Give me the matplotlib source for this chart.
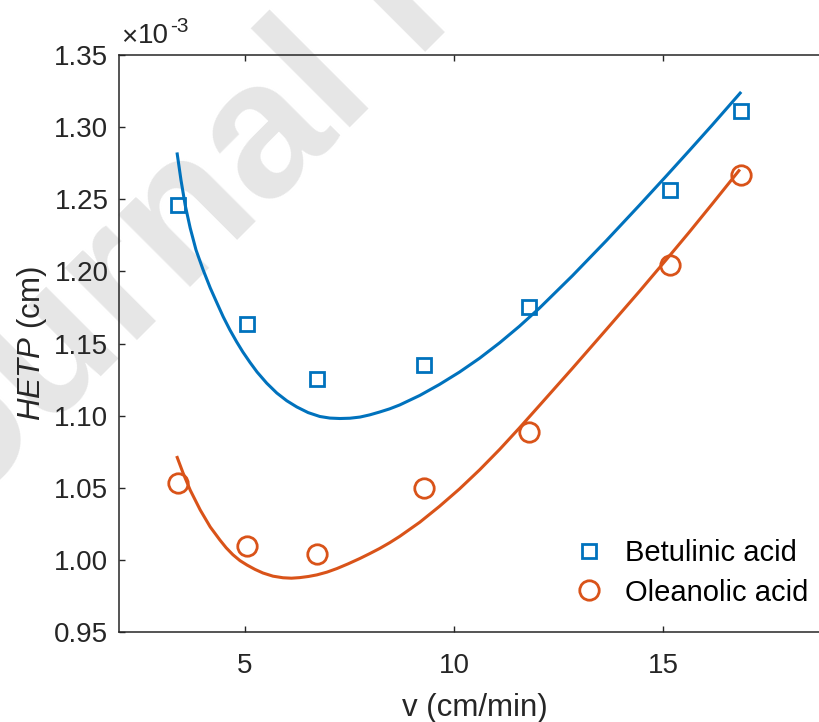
import numpy as np
import matplotlib
matplotlib.use("Agg")
import matplotlib.pyplot as plt
from matplotlib.lines import Line2D

plt.rcParams['font.family'] = ['Liberation Sans', 'DejaVu Sans']
plt.rcParams['mathtext.fontset'] = 'custom'
plt.rcParams['mathtext.rm'] = 'Liberation Sans'
plt.rcParams['mathtext.it'] = 'Liberation Sans:italic'

# measured points (v in cm/min, HETP in 1e-3 cm)
v_exp = [3.39, 5.06, 6.73, 9.28, 11.80, 15.16, 16.85]
hetp_betulinic = [1.246, 1.1635, 1.1253, 1.135, 1.1752, 1.2564, 1.3112]
hetp_oleanolic = [1.0532, 1.0095, 1.004, 1.0497, 1.0886, 1.2044, 1.2668]

# fitted curves
v_fit_b = [3.38, 3.47, 3.57, 3.69, 3.83, 4.00, 4.17, 4.33, 4.48, 4.64, 4.80, 4.95,
           5.12, 5.29, 5.52, 5.76, 6.00, 6.24, 6.51, 6.79, 7.03, 7.27, 7.51, 7.75,
           7.98, 8.22, 8.46, 8.70, 9.18, 9.65, 10.13, 10.61, 11.09, 11.56, 12.04,
           12.83, 13.64, 14.43, 15.07, 15.62, 16.17, 16.84]
hetp_fit_b = [1.2814, 1.2633, 1.2460, 1.2301, 1.2148, 1.2010, 1.1885, 1.1781, 1.1685,
              1.1594, 1.1512, 1.1441, 1.1369, 1.1302, 1.1225, 1.1157, 1.1103, 1.1060,
              1.1021, 1.0994, 1.0983, 1.0980, 1.0982, 1.0990, 1.1005, 1.1025, 1.1047,
              1.1074, 1.1140, 1.1216, 1.1302, 1.1398, 1.1505, 1.1619, 1.1745, 1.1970,
              1.2213, 1.2458, 1.2660, 1.2836, 1.3014, 1.3236]
v_fit_o = [3.38, 3.52, 3.69, 3.93, 4.17, 4.40, 4.55, 4.71, 4.88, 5.05, 5.24, 5.43,
           5.67, 5.91, 6.11, 6.31, 6.52, 6.72, 6.96, 7.20, 7.47, 7.75, 7.98, 8.22,
           8.46, 8.70, 9.18, 9.65, 10.13, 10.61, 11.09, 11.56, 12.04, 12.83, 13.64,
           14.43, 15.07, 15.62, 16.17, 16.81]
hetp_fit_o = [1.0710, 1.0602, 1.0484, 1.0346, 1.0228, 1.0138, 1.0084, 1.0036, 0.9995,
              0.9964, 0.9934, 0.9909, 0.9887, 0.9876, 0.9873, 0.9877, 0.9885, 0.9896,
              0.9915, 0.9940, 0.9973, 1.0010, 1.0043, 1.0079, 1.0119, 1.0163, 1.0261,
              1.0371, 1.0492, 1.0624, 1.0766, 1.0914, 1.1070, 1.1328, 1.1597, 1.1861,
              1.2080, 1.2271, 1.2467, 1.2698]

labels = ['Betulinic acid', 'Oleanolic acid']
xticks = [5, 10, 15]
yticks = [0.95, 1.00, 1.05, 1.10, 1.15, 1.20, 1.25, 1.30, 1.35]

blue = '#0072BD'
orange = '#D95319'
dark = '#262626'

fig = plt.figure(figsize=(8.2, 7.22), dpi=100)

# watermark
fig.text(-0.139, 0.181, 'Journal Pre-proof', rotation=45, rotation_mode='anchor',
         ha='left', va='baseline', fontsize=139, fontweight='bold',
         color='#e6e6e6', zorder=-1)

ax = fig.add_axes([119.5 / 820, 1 - 632 / 722, (830.5 - 119.5) / 820, (632 - 55) / 722])
ax.set_facecolor('none')

ax.plot(v_exp, hetp_betulinic, linestyle='none', marker='s', ms=10, mfc='none',
        mec=blue, mew=2.0, zorder=2)
ax.plot(v_exp, hetp_oleanolic, linestyle='none', marker='o', ms=14, mfc='none',
        mec=orange, mew=2.0, zorder=2)
ax.plot(v_fit_b, hetp_fit_b, color=blue, lw=2.2, zorder=3)
ax.plot(v_fit_o, hetp_fit_o, color=orange, lw=2.2, zorder=3)

ax.set_xlim(2, 19)
ax.set_ylim(0.95, 1.35)
ax.set_xticks(xticks)
ax.set_yticks(yticks)
ax.set_yticklabels(['%.2f' % t for t in yticks])
ax.tick_params(direction='in', length=4, width=1, colors=dark, labelsize=20,
               top=True, right=True)
ax.tick_params(axis='x', pad=15)
ax.tick_params(axis='y', pad=8)
for s in ax.spines.values():
    s.set_color(dark)
    s.set_linewidth(1.1)

ax.set_xlabel('v (cm/min)', fontsize=22.5, color=dark, labelpad=10)
ax.set_ylabel(r'$\mathit{HETP}$ (cm)', fontsize=22.5, color=dark, labelpad=4)

# axis multiplier, MATLAB style
fig.text(121 / 820, 1 - 38 / 722, '\u00d7', fontsize=20, color=dark, ha='left', va='center')
fig.text(138 / 820, 1 - 36 / 722, '10', fontsize=20, color=dark, ha='left', va='center')
fig.text(170 / 820, 1 - 26 / 722, '-3', fontsize=15, color=dark, ha='left', va='center')

handles = [Line2D([], [], linestyle='none', marker='s', ms=10, mfc='none', mec=blue, mew=2.0),
           Line2D([], [], linestyle='none', marker='o', ms=14, mfc='none', mec=orange, mew=2.0)]
ax.legend(handles, labels, loc='upper left', bbox_to_anchor=(574 / 820, 1 - 539 / 722),
          bbox_transform=fig.transFigure, frameon=False, fontsize=21, handlelength=1.0,
          handletextpad=0.75, borderpad=0, borderaxespad=0, labelspacing=0.4)

fig.savefig('out.png', dpi=100)
